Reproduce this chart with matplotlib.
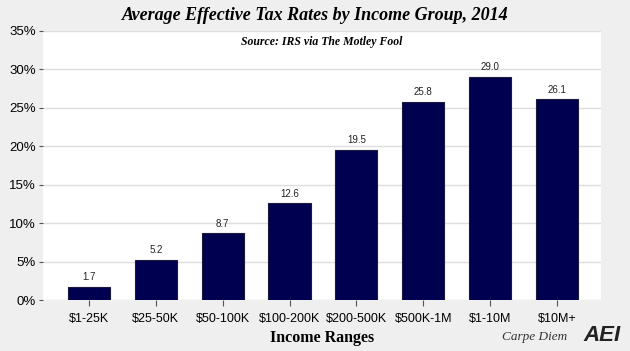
import matplotlib.pyplot as plt
import numpy as np

# Data
categories = ['$1-25K', '$25-50K', '$50-100K', '$100-200K', '$200-500K', '$500K-1M', '$1-10M', '$10M+']
rates = [1.7, 5.2, 8.7, 12.6, 19.5, 25.8, 29.0, 26.1]
yticks = [0, 5, 10, 15, 20, 25, 30, 35]

fig = plt.figure(figsize=(6.3, 3.51), dpi=100, facecolor='#efefef')
ax = fig.add_axes([0.068, 0.145, 0.886, 0.767])
ax.set_facecolor('white')

x = np.arange(len(categories))
ax.bar(x, rates, width=0.63, color='#000050', edgecolor='#1a1a3a', linewidth=0.8, zorder=3)

# value labels
for xi, v in zip(x, rates):
    ax.text(xi, v + 0.6, f'{v:.1f}', ha='center', va='bottom', fontsize=7,
            family='Liberation Sans', color='#222222')

ax.set_xlim(-0.69, 7.66)
ax.set_ylim(0, 35)
ax.set_yticks(yticks)
ax.set_yticklabels([f'{t}%' for t in yticks], family='Liberation Sans', fontsize=9.5)
ax.set_xticks(x)
ax.set_xticklabels(categories, family='Liberation Sans', fontsize=9)
ax.tick_params(axis='y', length=3, color='#555555', pad=2)
ax.tick_params(axis='x', length=4, color='#555555', pad=5)
ax.grid(axis='y', color='#dedede', linewidth=1, zorder=0)
for s in ax.spines.values():
    s.set_visible(False)

ax.set_xlabel('Income Ranges', family='Liberation Serif', fontweight='bold', fontsize=11.5, labelpad=4)

fig.text(0.5, 0.955, 'Average Effective Tax Rates by Income Group, 2014', ha='center', va='center',
         family='Liberation Serif', fontstyle='italic', fontweight='bold', fontsize=13)
ax.text(0.5, 0.96, 'Source: IRS via The Motley Fool', transform=ax.transAxes, ha='center', va='center',
        family='Liberation Serif', fontstyle='italic', fontweight='bold', fontsize=8.5)

fig.text(0.9, 0.04, 'Carpe Diem', ha='right', va='center', family='Liberation Serif',
         fontstyle='italic', fontsize=9.5, color='#333333')
fig.text(0.985, 0.045, 'AEI', ha='right', va='center', family='Liberation Sans',
         fontstyle='italic', fontweight='bold', fontsize=16, color='#222222')

fig.savefig('out.png', dpi=100, facecolor=fig.get_facecolor())
